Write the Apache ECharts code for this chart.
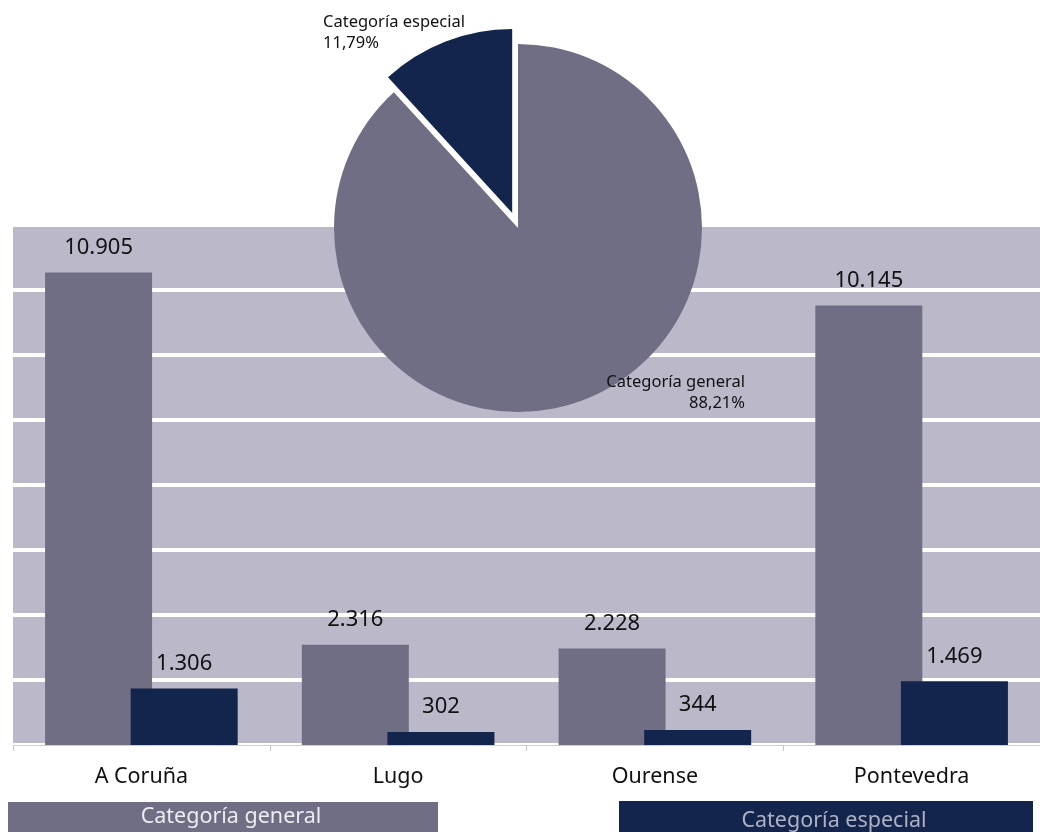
<!DOCTYPE html>
<html>
<head>
<meta charset="utf-8">
<script src="https://cdn.jsdelivr.net/npm/echarts@6/dist/echarts.min.js"></script>
<style>
html,body{margin:0;padding:0;background:#fff;}
#chart{width:1040px;height:832px;}
</style>
</head>
<body>
<div id="chart"></div>
<script>
const categories = ['A Coruña', 'Lugo', 'Ourense', 'Pontevedra'];
const seriesNames = ['Categoría general', 'Categoría especial'];
const generalValues = [10905, 2316, 2228, 10145];
const especialValues = [1306, 302, 344, 1469];
const yMax = 12000;
const yInterval = 1500;

const C_BAND = '#bab8c9';
const C_GREY = '#706e85';
const C_NAVY = '#14254d';
const FONT = '"Noto Sans", "Open Sans", sans-serif';

function fmtEs(v) {
  return String(v).replace(/\B(?=(\d{3})+(?!\d))/g, '.');
}
const sum = a => a.reduce((s, v) => s + v, 0);
const totGeneral = sum(generalValues);
const totEspecial = sum(especialValues);
const totAll = totGeneral + totEspecial;
const pct = v => (v / totAll * 100).toFixed(2).replace('.', ',') + '%';

const chart = echarts.init(document.getElementById('chart'), null, {renderer: 'canvas'});
const option = {
  animation: false,
  grid: {
    left: 13, top: 225, width: 1032, bottom: 87,
    show: true, backgroundColor: C_BAND, borderWidth: 0
  },
  xAxis: {
    type: 'category',
    data: categories,
    axisLine: {show: true, lineStyle: {color: '#cfcfcf', width: 1}},
    axisTick: {show: true, length: 6, lineStyle: {color: '#c8c8c8'}},
    axisLabel: {color: '#111', fontSize: 21.5, fontFamily: FONT, margin: 21}
  },
  yAxis: {
    type: 'value',
    min: 0, max: yMax, interval: yInterval,
    axisLabel: {show: false},
    axisLine: {show: false},
    axisTick: {show: false},
    splitLine: {show: true, lineStyle: {color: '#ffffff', width: 4}}
  },
  series: [
    {
      name: seriesNames[0], type: 'bar', data: generalValues,
      barWidth: 107, barGap: '-20%',
      itemStyle: {color: C_GREY},
      label: {show: true, position: 'top', distance: 14, color: '#111', fontSize: 22, fontFamily: FONT,
        formatter: p => fmtEs(p.value)}
    },
    {
      name: seriesNames[1], type: 'bar', data: especialValues,
      barWidth: 107, barGap: '-20%',
      itemStyle: {color: C_NAVY},
      label: {show: true, position: 'top', distance: 14, color: '#111', fontSize: 22, fontFamily: FONT,
        formatter: p => fmtEs(p.value)}
    },
    {
      type: 'pie',
      center: [518, 228],
      radius: [0, 184],
      startAngle: 90,
      clockwise: true,
      selectedMode: 'single',
      selectedOffset: 16,
      z: 5,
      label: {show: false},
      labelLine: {show: false},
      data: [
        {name: seriesNames[0], value: totGeneral, itemStyle: {color: C_GREY}},
        {name: seriesNames[1], value: totEspecial, selected: true, itemStyle: {color: C_NAVY}}
      ]
    }
  ],
  graphic: [
    {type: 'text', z: 100, style: {text: seriesNames[1] + '\n' + pct(totEspecial), x: 323, y: 33,
      align: 'left', verticalAlign: 'middle', lineHeight: 21.5, fill: '#111', font: '16.5px ' + FONT}},
    {type: 'text', z: 100, style: {text: seriesNames[0] + '\n' + pct(totGeneral), x: 745, y: 393,
      align: 'right', verticalAlign: 'middle', lineHeight: 20.5, fill: '#111', font: '16.5px ' + FONT}},
    {type: 'rect', z: 100, shape: {x: 8, y: 802, width: 430, height: 40}, style: {fill: C_GREY}},
    {type: 'text', z: 101, style: {text: seriesNames[0], x: 231, y: 817, align: 'center', verticalAlign: 'middle',
      fill: '#ececf1', font: '21.5px ' + FONT}},
    {type: 'rect', z: 100, shape: {x: 619, y: 801, width: 414, height: 40}, style: {fill: C_NAVY}},
    {type: 'text', z: 101, style: {text: seriesNames[1], x: 834, y: 821, align: 'center', verticalAlign: 'middle',
      fill: '#aeb1c3', font: '21.5px ' + FONT}}
  ]
};
chart.setOption(option);
</script>
</body>
</html>
